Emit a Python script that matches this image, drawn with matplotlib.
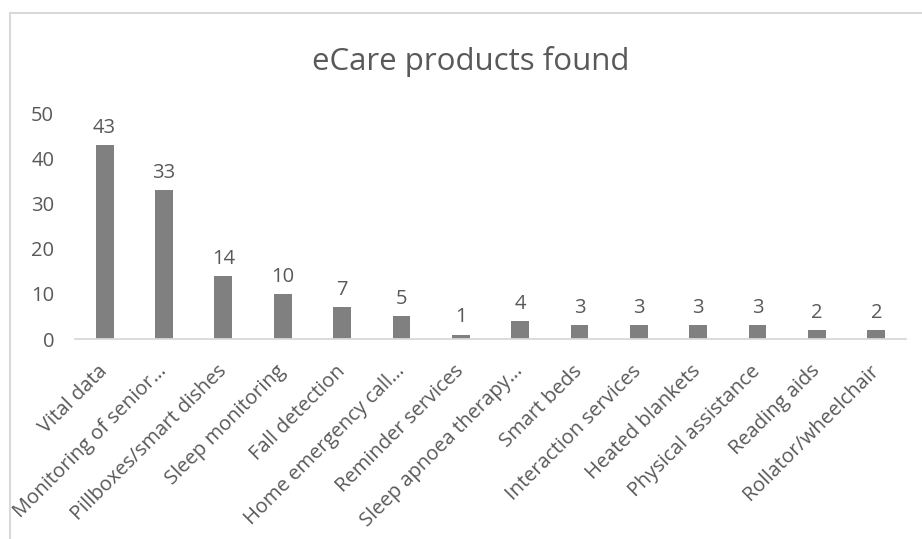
import matplotlib.pyplot as plt
from matplotlib.patches import Rectangle

categories = ['Vital data', 'Monitoring of senior\u2026', 'Pillboxes/smart dishes',
              'Sleep monitoring', 'Fall detection', 'Home emergency call\u2026',
              'Reminder services', 'Sleep apnoea therapy\u2026', 'Smart beds',
              'Interaction services', 'Heated blankets', 'Physical assistance',
              'Reading aids', 'Rollator/wheelchair']
counts = [43, 33, 14, 10, 7, 5, 1, 4, 3, 3, 3, 3, 2, 2]
y_ticks = [0, 10, 20, 30, 40, 50]

plt.rcParams['font.family'] = ['Open Sans', 'DejaVu Sans']
text_grey = '#595959'

fig = plt.figure(figsize=(9.22, 5.39), dpi=100)
ax = fig.add_axes([0.0813, 0.371, 0.9013, 0.419])

x = range(len(categories))
bars = ax.bar(x, counts, width=0.3, color='#808080', zorder=2)

# value labels on top of each bar
for xi, v in zip(x, counts):
    ax.text(xi, v + 1.6, str(v), ha='center', va='bottom', fontsize=14.5,
            color=text_grey, clip_on=False)

ax.set_xlim(-0.5, len(categories) - 0.5)
ax.set_ylim(0, 50)
ax.set_yticks(y_ticks)
ax.set_yticklabels([str(t) for t in y_ticks], fontsize=14.5, color=text_grey)
ax.set_xticks(list(x))
ax.set_xticklabels(categories, rotation=45, ha='right', va='center',
                   rotation_mode='anchor', fontsize=14.5, color=text_grey)
ax.tick_params(axis='both', length=0)
ax.tick_params(axis='y', pad=15)
ax.tick_params(axis='x', pad=21)

for side in ['top', 'right', 'left']:
    ax.spines[side].set_visible(False)
ax.spines['bottom'].set_color('#d9d9d9')
ax.spines['bottom'].set_linewidth(1.3)

fig.text(0.511, 0.885, 'eCare products found', ha='center', va='center',
         fontsize=22.5, color=text_grey)

# chart area frame (left and top edges visible)
fig.patches.append(Rectangle((10 / 922, -0.1), 1.2, 0.1 + (539 - 13) / 539,
                             transform=fig.transFigure, fill=False,
                             edgecolor='#d9d9d9', linewidth=1.5))

fig.savefig('out.png', dpi=100)
